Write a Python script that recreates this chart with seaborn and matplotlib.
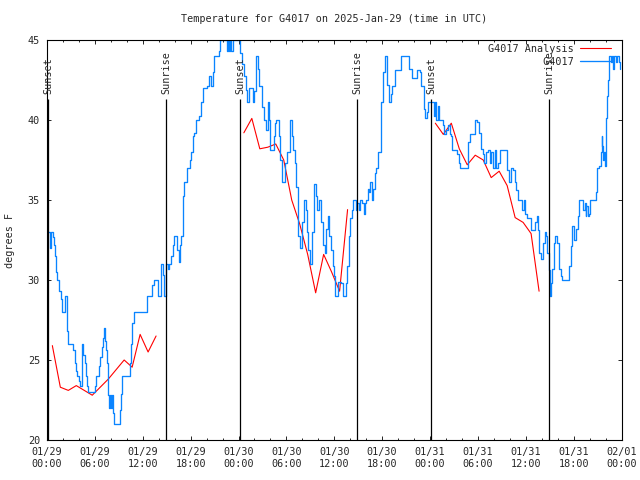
import matplotlib
matplotlib.use("Agg")
import matplotlib.pyplot as plt
from matplotlib.lines import Line2D
import pandas as pd
import seaborn as sns

# observed station temps (hours since 01/29 00:00 UTC, deg F)
obs_hours = [0.13, 0.35, 0.55, 0.75, 0.88, 1.0, 1.17, 1.3, 1.55, 1.72, 1.88, 2.3, 2.45, 2.55, 2.63,
             3.3, 3.45, 3.55, 3.65, 3.8, 4.05, 4.15, 4.4, 4.55, 4.7, 4.9, 5.05, 5.14, 6.0, 6.2,
             6.5, 6.7, 6.9, 7.0, 7.1, 7.25, 7.4, 7.5, 7.6, 7.7, 7.75, 7.85, 8.0, 8.1, 8.22,
             8.4, 9.15, 9.3, 9.44, 10.2, 10.36, 10.57, 10.7, 10.9, 12.5, 13.2, 13.4, 13.95, 14.3,
             14.5, 14.66, 14.87, 15.2, 15.3, 15.6, 15.75, 15.9, 16.25, 16.6, 16.7, 16.83, 17.0,
             17.1, 17.2, 17.5, 17.9, 18.1, 18.25, 18.4, 18.67, 19.0, 19.25, 19.5, 20.0, 20.34,
             20.6, 20.75, 20.9, 21.5, 21.7, 22.5, 22.65, 22.8, 22.95, 23.1, 23.25, 24.2, 24.5,
             24.73, 24.94, 25.1, 25.35, 25.77, 25.86, 25.98, 26.2, 26.4, 26.6, 26.9, 27.2, 27.4,
             27.7, 27.8, 27.95, 28.4, 28.6, 28.7, 29.03, 29.2, 29.45, 29.87, 30.03, 30.45, 30.7,
             30.87, 31.1, 31.2, 31.4, 31.5, 31.7, 32.0, 32.25, 32.4, 32.54, 32.7, 32.9, 33.2,
             33.4, 33.5, 33.7, 33.9, 34.1, 34.4, 34.6, 34.8, 34.96, 35.2, 35.4, 35.6, 35.8, 36.0,
             36.1, 36.5, 36.9, 37.05, 37.5, 37.6, 37.8, 38.0, 38.2, 38.3, 38.7, 38.85, 39.05,
             39.25, 39.5, 39.7, 39.8, 39.97, 40.2, 40.4, 40.5, 40.7, 40.9, 41.05, 41.2, 41.5,
             41.8, 41.9, 42.06, 42.3, 42.6, 42.9, 43.15, 43.3, 43.65, 44.07, 44.4, 45.1, 45.4,
             45.74, 46.2, 46.4, 46.7, 46.9, 47.2, 47.4, 47.6, 47.8, 48.37, 48.5, 48.66, 48.79,
             49.0, 49.08, 49.6, 49.75, 50.0, 50.25, 50.46, 50.67, 50.8, 51.4, 51.6, 51.7, 52.67,
             52.76, 52.8, 52.97, 53.4, 53.6, 53.9, 54.1, 54.35, 54.6, 54.8, 55.05, 55.3, 55.5,
             55.7, 55.9, 56.1, 56.3, 56.5, 56.73, 57.4, 57.7, 57.85, 58.1, 58.4, 58.6, 58.8,
             59.0, 59.5, 59.8, 59.9, 60.2, 60.6, 61.2, 61.36, 61.5, 61.7, 61.9, 62.1, 62.2, 62.4,
             62.5, 62.7, 62.9, 63.0, 63.1, 63.2, 63.3, 63.5, 63.7, 63.95, 64.2, 64.4, 64.6, 65.2,
             65.4, 65.7, 65.8, 66.05, 66.25, 66.5, 66.7, 67.1, 67.2, 67.4, 67.5, 67.6, 67.8,
             67.9, 68.1, 68.5, 68.75, 68.96, 69.2, 69.4, 69.5, 69.6, 69.7, 69.8, 69.9, 70.0,
             70.1, 70.2, 70.3, 70.4, 70.6, 70.7, 70.8, 70.9, 71.05, 71.3, 71.4, 71.7, 71.8]
obs_temp = [33, 32, 33, 32.7, 32.2, 31.5, 30.5, 30, 29.3, 28.8, 28, 29, 28, 26.8, 26,
            25.6, 25.2, 24.8, 24.3, 24, 23.7, 23.4, 26, 25.3, 24.8, 24, 23.4, 23, 23.4, 24,
            24.6, 25.2, 25.8, 26.4, 27, 26.2, 25.6, 24.8, 24, 22.8, 22, 22.8, 22, 22.8, 21.7,
            21, 21.9, 22.9, 24, 24, 24.8, 26, 27.3, 28, 29, 29.7, 30, 29, 31,
            30.3, 29, 31, 30.7, 31, 31.5, 32.2, 32.75, 31.9, 31.1, 32.2, 32.75, 33.8,
            35.25, 36.1, 37, 37.5, 38, 39, 39.2, 40, 40.25, 41.1, 42, 42.1, 42.75,
            42.1, 43, 44, 44.3, 45, 44.3, 45, 44.3, 45, 44.3, 45, 44.2, 43.5,
            42.75, 41.9, 41.1, 42, 42, 41.1, 41.8, 44, 43.2, 42.1, 40.8, 40, 39.4,
            41.1, 40, 38.1, 39, 39.8, 40, 39, 37.5, 36.1, 37.3, 38, 40, 39,
            38.1, 37.3, 35.8, 34.2, 32.75, 32, 33.6, 35, 34.4, 33, 31.9, 31, 33,
            34.8, 36, 35.25, 34.4, 35, 33.6, 32.2, 31.7, 33.2, 34, 32.75, 31.9, 30.9, 30.25,
            29, 29.9, 29.8, 29, 29.8, 30.9, 32.75, 33.9, 34.4, 35, 34.4, 34.8, 34.4,
            35, 34.8, 34.1, 34.8, 35, 35.7, 35.5, 36.1, 35, 35.7, 36.7, 37, 38,
            39, 41.1, 43, 44, 42.2, 41.1, 41.6, 42.1, 43.1, 43.1, 44, 44, 43.2,
            42.6, 42.6, 43.1, 43, 42.1, 40.7, 40.1, 40.5, 41.1, 41.1, 40.25, 41.1, 40,
            40.9, 40, 39.7, 39.1, 39.4, 39.7, 39.1, 39, 38.1, 37.9, 37.3, 37, 37,
            37.5, 38.6, 39.1, 39.1, 40, 39.9, 39.2, 38.2, 37.9, 37.3, 38, 38.1, 37.3,
            38, 37, 38.1, 37, 37.3, 38.1, 38.1, 36.9, 36.1, 37, 36.9, 36.1, 35.6,
            35, 34.4, 35, 34.1, 33.9, 33.1, 33.6, 34, 33.1, 31.7, 31.3, 31.9, 32.3, 33,
            32.75, 31.7, 30.6, 30.25, 29, 29.8, 30.7, 32.3, 32.75, 32.3, 30.7, 30.25, 30, 30,
            30.9, 32.1, 33.4, 32.5, 33.2, 34, 35, 35, 34.4, 34.8, 34, 34.6, 34,
            34.1, 35, 35, 35.5, 37, 37.1, 38, 39, 38.4, 37.5, 38, 37.1, 38.4,
            40.1, 41.5, 42.5, 44, 44, 43.6, 44, 43.2, 44, 43.6, 44, 43.6, 43.2]

# hourly analysis, three overnight runs
ana_hours = [0.67, 1.67, 2.67, 3.67, 4.67, 5.67, 6.67, 7.67, 8.67, 9.67, 10.67, 11.67, 12.67, 13.67,
             24.67, 25.67, 26.67, 27.67, 28.67, 29.67, 30.67, 31.67, 32.67, 33.67, 34.67, 35.67, 36.67, 37.67,
             48.67, 49.67, 50.67, 51.67, 52.67, 53.67, 54.67, 55.67, 56.67, 57.67, 58.67, 59.67, 60.67, 61.67]
ana_temp = [25.9, 23.3, 23.1, 23.4, 23.1, 22.8, 23.3, 23.8, 24.4, 25.0, 24.55, 26.6, 25.5, 26.5,
            39.2, 40.1, 38.2, 38.3, 38.5, 37.5, 35.0, 33.5, 31.6, 29.2, 31.6, 30.5, 29.3, 34.4,
            39.8, 39.1, 39.8, 38.2, 37.2, 37.8, 37.5, 36.4, 36.8, 35.9, 33.9, 33.6, 32.9, 29.3]
ana_run = [1] * 14 + [2] * 14 + [3] * 14

sun_hours = [0.15, 14.91, 24.19, 38.89, 48.16, 62.95]
sun_labels = ["Sunset", "Sunrise", "Sunset", "Sunrise", "Sunset", "Sunrise"]

tick_hours = list(range(0, 73, 6))
tick_labels = ["01/29\n00:00", "01/29\n06:00", "01/29\n12:00", "01/29\n18:00",
               "01/30\n00:00", "01/30\n06:00", "01/30\n12:00", "01/30\n18:00",
               "01/31\n00:00", "01/31\n06:00", "01/31\n12:00", "01/31\n18:00",
               "02/01\n00:00"]

sns.set_style("ticks")
plt.rcParams['font.family'] = ['DejaVu Sans Mono']
fs = 7.3

obs = pd.DataFrame({"hours": obs_hours, "temp": obs_temp})
ana = pd.DataFrame({"hours": ana_hours, "temp": ana_temp, "run": ana_run})

fig = plt.figure(figsize=(6.4, 4.8), dpi=100)
ax = fig.add_axes([47 / 640, 40 / 480, 574.5 / 640, 400 / 480])

red = "#ff0000"
blue = "#0a84ff"

sns.lineplot(data=ana, x="hours", y="temp", units="run", estimator=None,
             color=red, lw=0.8, ax=ax)
sns.lineplot(data=obs, x="hours", y="temp", estimator=None, color=blue,
             lw=0.95, drawstyle="steps-post", ax=ax)

# sunrise / sunset markers
ax.vlines(sun_hours, 20, 41.3, color="black", lw=0.9)
for h, lab in zip(sun_hours, sun_labels):
    ax.text(h, 41.65, lab, rotation=90, ha="center", va="bottom", fontsize=fs)

ax.set_xlim(0, 72)
ax.set_ylim(20, 45)
ax.set_xticks(tick_hours)
ax.set_xticklabels(tick_labels, fontsize=fs)
ax.set_xticks(range(0, 73, 2), minor=True)
ax.set_yticks(range(20, 46, 5))
ax.tick_params(axis="y", labelsize=fs)
ax.tick_params(which="major", direction="in", length=3, width=0.7, top=True, right=True, pad=5)
ax.tick_params(which="minor", direction="in", length=1.6, width=0.7, top=True, right=False)
ax.tick_params(axis="y", which="minor", left=False, right=False)
for s in ax.spines.values():
    s.set_color("black")
    s.set_linewidth(0.8)

ax.set_xlabel("")
ax.set_ylabel("")
fig.text(10 / 640, 0.5, "degrees F", rotation=90, ha="center", va="center", fontsize=fs)
ax.text(0.5, 1 + 21 / 400, "Temperature for G4017 on 2025-Jan-29 (time in UTC)",
        transform=ax.transAxes, ha="center", va="center", fontsize=fs)

handles = [Line2D([], [], color=red, lw=0.8), Line2D([], [], color=blue, lw=0.95)]
ax.legend(handles, ["G4017 Analysis", "         G4017"], loc="upper right",
          bbox_to_anchor=(1 - 11 / 574.5, 1 - 4 / 400), frameon=False, markerfirst=False,
          borderpad=0, borderaxespad=0, handlelength=3.0, handletextpad=0.6,
          labelspacing=0.3, fontsize=fs)

fig.savefig("out.png", dpi=100)
